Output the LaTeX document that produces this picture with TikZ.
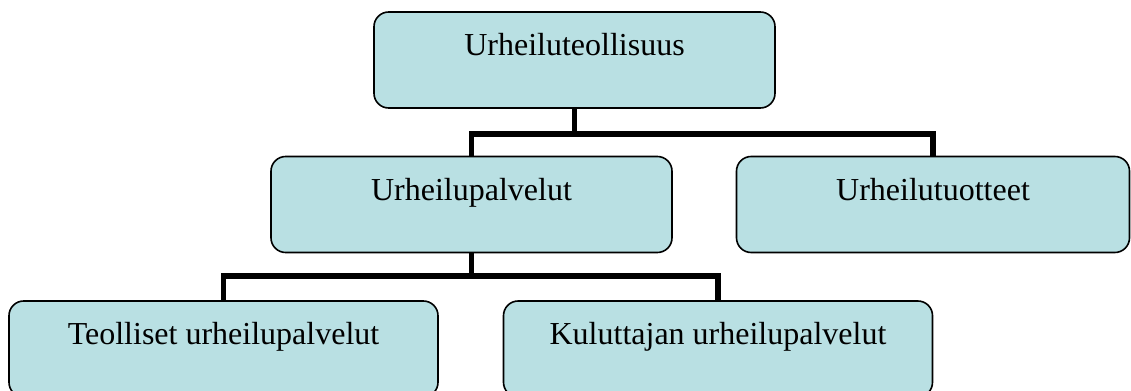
\documentclass[tikz,border=0pt]{standalone}
\usepackage{fontspec}
\setmainfont{Liberation Serif}

\definecolor{boxfill}{RGB}{185,224,227}

\tikzset{every picture/.style={line width=0.75pt}}
\tikzset{
	orgbox/.style={draw=black, line width=1.2pt, fill=boxfill, rounded corners=11pt,
		inner sep=0pt, text height=33pt, text depth=39pt, minimum width=300.75pt,
		font=\fontsize{24}{28}\selectfont},
	widebox/.style={orgbox, minimum width=321.75pt},
	conn/.style={draw=black, line width=4.2pt}
}

\begin{document}
\begin{tikzpicture}[x=0.75pt,y=0.75pt,yscale=-1,xscale=1]
	\useasboundingbox (0,0) rectangle (1131,391);

	%Shape: Rounded Rect [top]
	\node[orgbox] (ind) at (574.5,60) {Urheiluteollisuus};
	%Shape: Rounded Rect [middle row]
	\node[orgbox] (svc) at (471.5,204.5) {Urheilupalvelut};
	\node[orgbox, minimum width=294.75pt] (prod) at (933,204.5) {Urheilutuotteet};
	%Shape: Rounded Rect [bottom row]
	\node[widebox] (bus) at (223.5,349) {Teolliset urheilupalvelut};
	\node[widebox] (cons) at (718,349) {Kuluttajan urheilupalvelut};

	%Straight Lines [top -> middle]
	\draw[conn] (ind.south) -- (ind.south |- 0,134);
	\draw[conn] (svc.north) |- (0,134 -| ind.south) -| (prod.north);
	%Straight Lines [middle -> bottom]
	\draw[conn] (svc.south) -- (svc.south |- 0,276);
	\draw[conn] (bus.north) |- (0,276 -| svc.south) -| (cons.north);

\end{tikzpicture}
\end{document}
